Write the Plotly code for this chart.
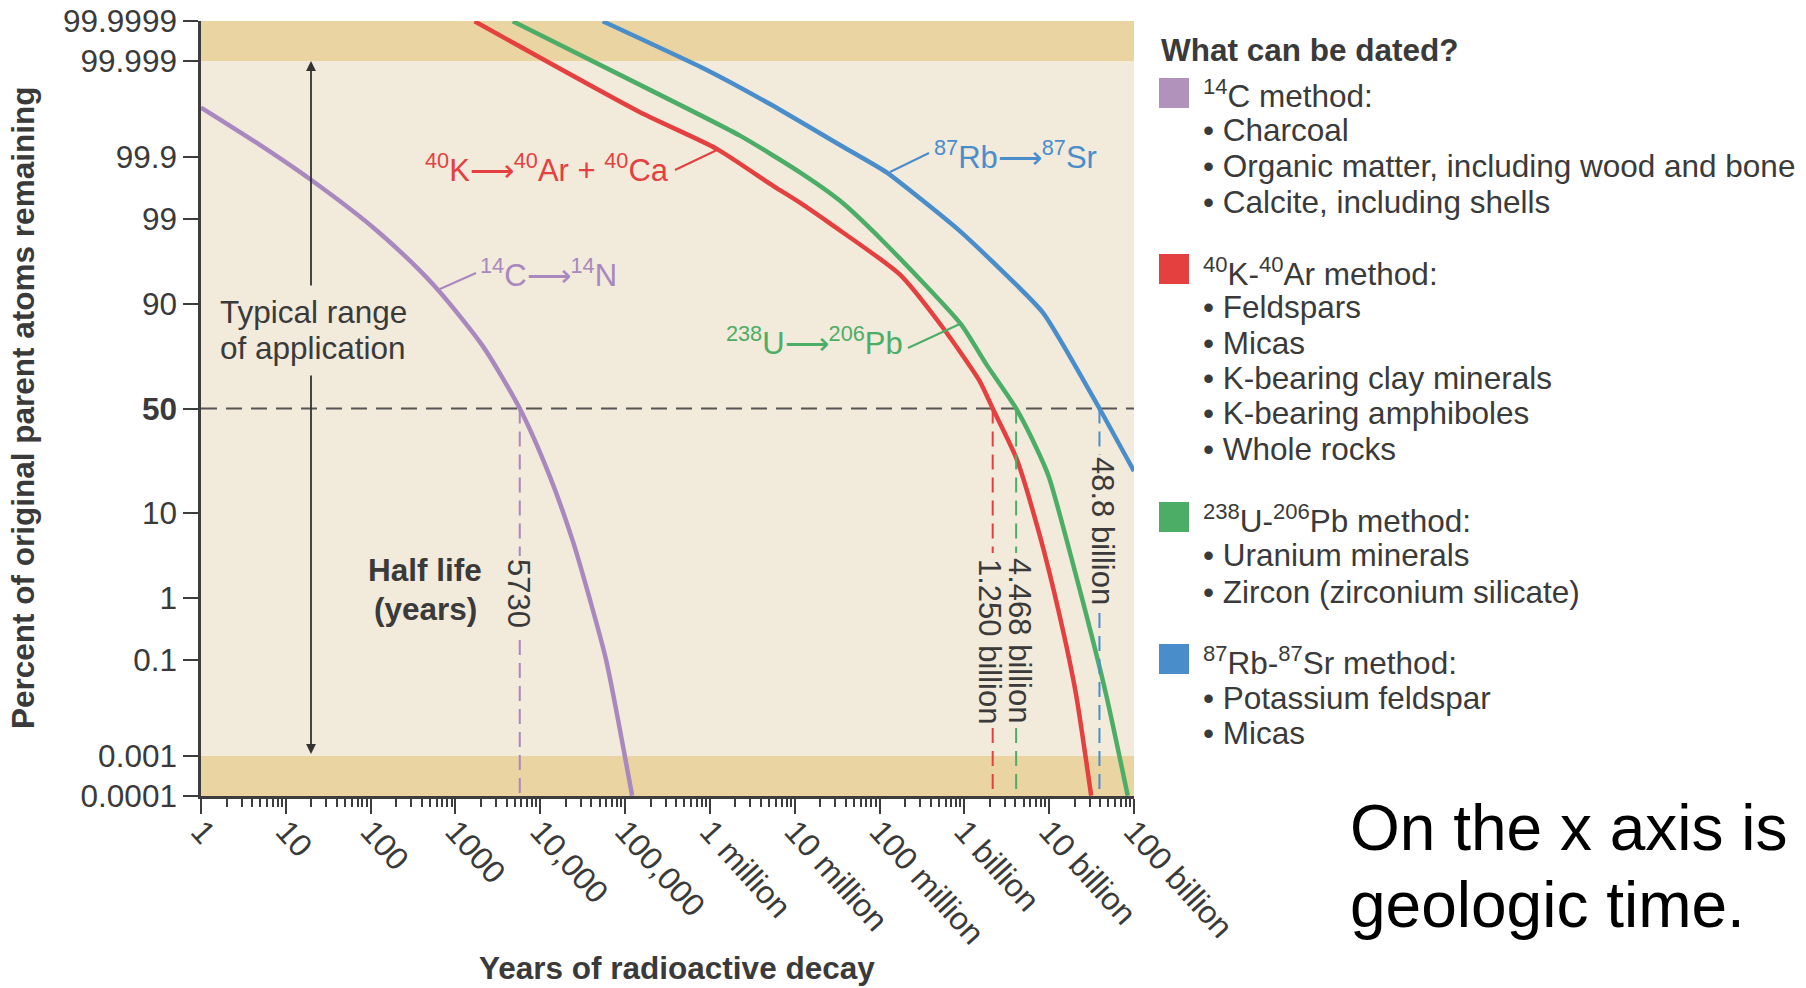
import math
import plotly.graph_objects as go

# ---------------- data ----------------
c14_years = [1, 4.5, 19, 106, 300, 650, 2100, 5730, 12850, 24150, 38000, 59800, 121000]
c14_pct = [99.989, 99.945, 99.76, 98.7, 96.4, 92.4, 77.8, 50, 20.5, 5.2, 1.0, 0.1, 0.0001]

k40_years = [1680, 1.48e5, 1.19e6, 5.5e6, 1.14e7, 2.81e7, 1.72e8, 5.56e8, 1.51e9, 2.16e9,
             4.08e9, 7.69e9, 1.32e10, 2.08e10, 3.13e10]
k40_pct = [99.9999, 99.9864, 99.929, 99.69, 99.43, 98.77, 95.04, 84.0, 63.3, 50,
           27.3, 6.1, 0.57, 0.022, 0.0001]

u238_years = [4740, 1.48e5, 2.23e6, 1.14e7, 3.37e7, 1.1e8, 9.1e8, 1.81e9, 4.08e9,
              7.35e9, 1.0e10, 2.49e10, 4.7e10, 8.45e10]
u238_pct = [99.9999, 99.9965, 99.96, 99.815, 99.47, 98.0, 85.0, 70.7, 50,
            30.1, 19.8, 0.9, 0.022, 0.0001]

rb87_years = [54600, 9.04e5, 5.5e6, 3.37e7, 1.2e8, 8.75e8, 8.4e9, 3.92e10, 1e11]
rb87_pct = [99.9999, 99.9984, 99.990, 99.94, 99.815, 98.55, 88.1, 50, 22.1]

halflife_years = [5730, 2.16e9, 4.08e9, 3.92e10]
halflife_labels = ["5730", "1.250 billion", "4.468 billion", "48.8 billion"]

y_tick_values = [99.9999, 99.999, 99.9, 99, 90, 50, 10, 1, 0.1, 0.001, 0.0001]
y_tick_labels = ["99.9999", "99.999", "99.9", "99", "90", "<b>50</b>", "10", "1", "0.1",
                 "0.001", "0.0001"]
x_tick_values = [1, 10, 100, 1e3, 1e4, 1e5, 1e6, 1e7, 1e8, 1e9, 1e10, 1e11]
x_tick_labels = ["1", "10", "100", "1000", "10,000", "100,000", "1 million", "10 million",
                 "100 million", "1 billion", "10 billion", "100 billion"]

band_limits = [99.999, 0.001]  # typical range of application

legend_title = "What can be dated?"
legend_groups = [
    ("<sup>14</sup>C method:", ["Charcoal", "Organic matter, including wood and bone",
                                "Calcite, including shells"]),
    ("<sup>40</sup>K-<sup>40</sup>Ar method:", ["Feldspars", "Micas", "K-bearing clay minerals",
                                                "K-bearing amphiboles", "Whole rocks"]),
    ("<sup>238</sup>U-<sup>206</sup>Pb method:", ["Uranium minerals",
                                                  "Zircon (zirconium silicate)"]),
    ("<sup>87</sup>Rb-<sup>87</sup>Sr method:", ["Potassium feldspar", "Micas"]),
]

# ---------------- styles ----------------
PURPLE = "#a888be"
RED = "#e4403f"
GREEN = "#4cae66"
BLUE = "#4a8dcb"
SW_PURPLE = "#b092bb"
DARK = "#3a3a3a"
AXIS = "#3d3d3d"
CREAM = "#f2eadb"
TAN = "#ead4a2"
FONT = "Liberation Sans, Arial, Helvetica, sans-serif"
FS = 31.5
ARROW = "\u27f6"


def prob_z(pct):
    """Probability-scale (normal quantile) coordinate of a percentage."""
    p = pct / 100.0
    if p > 0.5:
        return -prob_z(100.0 - pct)
    lo, hi = -12.0, 0.0
    for _ in range(200):
        mid = (lo + hi) / 2
        if 0.5 * math.erfc(-mid / math.sqrt(2)) < p:
            lo = mid
        else:
            hi = mid
    return (lo + hi) / 2


# plot-area geometry in page pixels
PL, PR, PT, PB = 201.0, 1134.0, 21.0, 796.0
W, H = 1806, 988
ytop = prob_z(99.9999)
ybot = prob_z(0.0001)
YR0, YR1 = ybot - 0.004, ytop + 0.004


def px(x):
    return (x - PL) / (PR - PL)


def py(y):
    return (PB - y) / (PB - PT)


def pix_to_z(y):
    """page-pixel row -> y-axis coordinate (used only for label gaps)."""
    return YR1 - (y - PT) / (PB - PT) * (YR1 - YR0)


fig = go.Figure()

for yrs, pct, col, sm in [(c14_years, c14_pct, PURPLE, 0.7),
                          (k40_years, k40_pct, RED, 0.6),
                          (u238_years, u238_pct, GREEN, 0.6),
                          (rb87_years, rb87_pct, BLUE, 0.45)]:
    fig.add_trace(go.Scatter(x=yrs, y=[prob_z(v) for v in pct], mode="lines",
                             line=dict(color=col, width=4.5, shape="spline", smoothing=sm),
                             hoverinfo="skip"))

# half-life dashed drop lines (from 50 % down to the axis), broken where the label sits
label_gaps = [(556, 640), (553, 728), (553, 728), (455, 613)]
for yr, col, (g0, g1) in zip(halflife_years, [PURPLE, RED, GREEN, BLUE], label_gaps):
    fig.add_trace(go.Scatter(x=[yr, yr, None, yr, yr],
                             y=[prob_z(50), pix_to_z(g0), None, pix_to_z(g1), prob_z(0.0001)],
                             mode="lines", connectgaps=False,
                             line=dict(color=col, width=2, dash="15px,8px"),
                             hoverinfo="skip"))

shapes = [
    dict(type="rect", xref="paper", yref="y", x0=0, x1=1, y0=prob_z(band_limits[0]),
         y1=ytop + 0.05, fillcolor=TAN, line_width=0, layer="below"),
    dict(type="rect", xref="paper", yref="y", x0=0, x1=1, y0=ybot - 0.05,
         y1=prob_z(band_limits[1]), fillcolor=TAN, line_width=0, layer="below"),
    dict(type="line", xref="paper", yref="y", x0=0, x1=1, y0=prob_z(50), y1=prob_z(50),
         line=dict(color="#555555", width=1.8, dash="16px,9px"), layer="below"),
]

# leader lines for curve labels
for (x0, y0, x1, y1, col) in [(440, 289, 476, 273, PURPLE), (675, 170, 717, 150, RED),
                              (890, 172, 929, 153, BLUE), (908, 348, 962, 323, GREEN)]:
    shapes.append(dict(type="line", xref="paper", yref="paper", x0=px(x0), y0=py(y0),
                       x1=px(x1), y1=py(y1), line=dict(color=col, width=2)))

# legend swatches
for (y0, y1, col) in [(78, 108, SW_PURPLE), (254, 284, RED), (502, 532, GREEN),
                      (644, 674, BLUE)]:
    shapes.append(dict(type="rect", xref="paper", yref="paper", x0=px(1159), x1=px(1189),
                       y0=py(y1), y1=py(y0), fillcolor=col, line_width=0))

ann = []


def txt(x, y, text, size=FS, color=DARK, xanchor="left", angle=0):
    ann.append(dict(x=px(x), y=py(y), xref="paper", yref="paper", text=text,
                    showarrow=False, xanchor=xanchor, yanchor="middle", textangle=angle,
                    font=dict(size=size, color=color, family=FONT)))


# curve labels
txt(478, 273, "<sup>14</sup>C" + ARROW + "<sup>14</sup>N", 31, PURPLE)
txt(671, 168, "<sup>40</sup>K" + ARROW + "<sup>40</sup>Ar + <sup>40</sup>Ca", 31, RED, "right")
txt(932, 155, "<sup>87</sup>Rb" + ARROW + "<sup>87</sup>Sr", 31, BLUE)
txt(905, 341, "<sup>238</sup>U" + ARROW + "<sup>206</sup>Pb", 31, GREEN, "right")

# half-life labels
for (x, y, lab) in [(519, 593, halflife_labels[0]), (990, 641, halflife_labels[1]),
                    (1020, 640, halflife_labels[2]), (1103, 531, halflife_labels[3])]:
    txt(x, y, lab, 31, DARK, "center", 90)

txt(218, 312, "Typical range", FS)
txt(218, 348, "of application", FS)
txt(425, 570, "<b>Half life</b>", FS, DARK, "center")
txt(425, 609, "<b>(years)</b>", FS, DARK, "center")

# double arrow for the typical range
ann.append(dict(x=px(311), y=py(61), xref="paper", yref="paper", ax=0, ay=226,
                axref="pixel", ayref="pixel", showarrow=True, arrowhead=2, arrowsize=1.1,
                arrowwidth=1.8, arrowcolor="#333333", text=""))
ann.append(dict(x=px(311), y=py(754), xref="paper", yref="paper", ax=0, ay=-380,
                axref="pixel", ayref="pixel", showarrow=True, arrowhead=2, arrowsize=1.1,
                arrowwidth=1.8, arrowcolor="#333333", text=""))

# axis titles
txt(23, 408, "<b>Percent of original parent atoms remaining</b>", FS, DARK, "center", -90)
txt(677, 968, "<b>Years of radioactive decay</b>", FS, DARK, "center")

# legend block
txt(1159, 50, "<b>" + legend_title + "</b>", FS)
row_y = [[94, 130, 166, 202], [272, 307, 343, 378, 413, 449], [519, 555, 592],
         [661, 698, 733]]
for (head, items), ys in zip(legend_groups, row_y):
    txt(1201, ys[0], head, FS)
    for it, yy in zip(items, ys[1:]):
        txt(1201, yy, "\u2022 " + it, FS)

# note on the right
txt(1348, 828, "On the x axis is", 64, "#000000")
txt(1348, 905, "geologic time.", 64, "#000000")

minor_vals = [k * 10 ** d for d in range(11) for k in range(2, 10)]

fig.update_layout(
    width=W, height=H,
    margin=dict(l=PL, r=W - PR, t=PT, b=H - PB, pad=0, autoexpand=False),
    paper_bgcolor="white", plot_bgcolor=CREAM, showlegend=False,
    font=dict(family=FONT, color=DARK),
    shapes=shapes, annotations=ann,
    xaxis=dict(type="log", range=[-0.0005, 11.0005], tickmode="array",
               tickvals=x_tick_values, ticktext=x_tick_labels, tickangle=48,
               ticks="outside", ticklen=15, tickwidth=2, tickcolor=AXIS,
               ticklabelstandoff=-14,
               showline=True, linewidth=2.5, linecolor=AXIS, showgrid=False,
               zeroline=False, automargin=False,
               tickfont=dict(size=32, color=DARK, family=FONT),
               minor=dict(tickmode="array", tickvals=minor_vals, ticks="outside",
                          ticklen=8, tickwidth=1.5, tickcolor=AXIS, showgrid=False)),
    yaxis=dict(range=[YR0, YR1], tickmode="array",
               tickvals=[prob_z(v) for v in y_tick_values], ticktext=y_tick_labels,
               ticks="outside", ticklen=15, tickwidth=2, tickcolor=AXIS,
               showline=True, linewidth=2.5, linecolor=AXIS, showgrid=False,
               zeroline=False, automargin=False,
               tickfont=dict(size=FS, color=DARK, family=FONT)),
)

fig.write_html("out.html", config={"displayModeBar": False},
               post_script="document.body.style.margin='0';document.body.style.overflow='hidden';")
